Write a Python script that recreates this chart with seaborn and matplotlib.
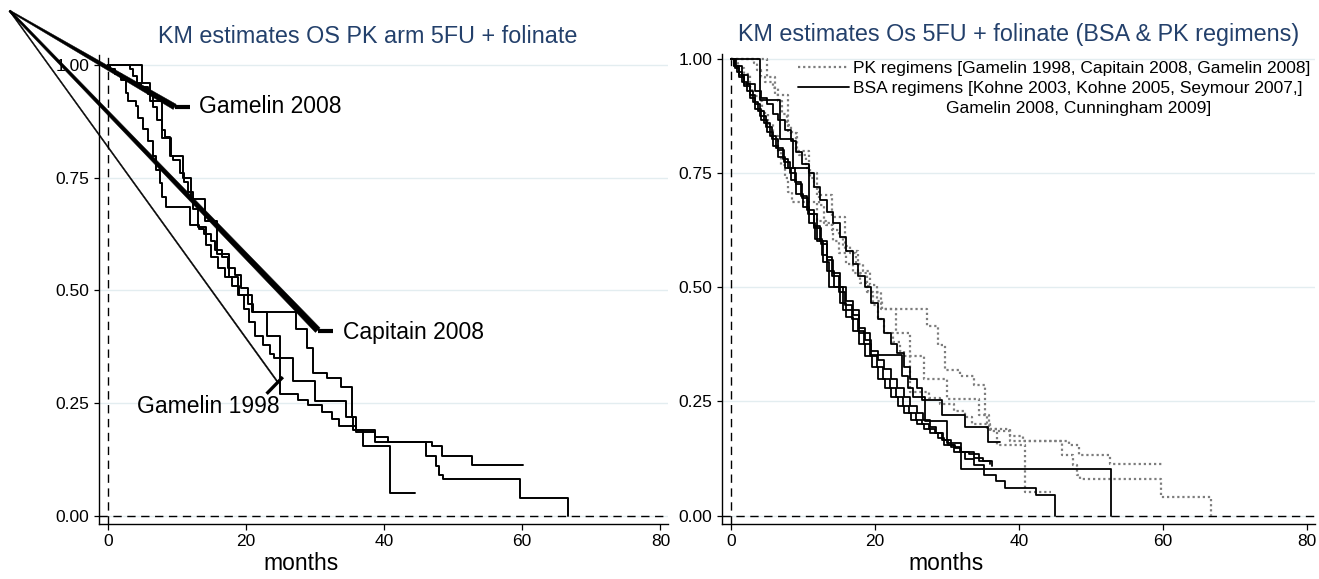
import numpy as np
import pandas as pd
import matplotlib
matplotlib.use("Agg")
import matplotlib.pyplot as plt
from matplotlib.lines import Line2D
from matplotlib.patches import Polygon
from matplotlib.ticker import FormatStrFormatter
import seaborn as sns

# ---------------- data ----------------
# PK arm studies (left panel, and dotted curves in right panel)
pk_a_t = [0, 0.4, 1.0, 1.9, 2.6, 3.0, 4.1, 4.4, 5.1, 5.8, 6.6, 7.0, 7.5, 7.9, 8.5, 11.9, 13.2, 14.0,
          15.0, 15.6, 16.5, 17.4, 18.4, 19.3, 20.3, 21.0, 23.0, 24.9, 26.8, 30.0, 34.5, 35.5, 36.9, 40.9, 44.5]
pk_a_s = [1.0, 0.99, 0.98, 0.967, 0.937, 0.919, 0.908, 0.882, 0.857, 0.831, 0.797, 0.768, 0.738, 0.708,
          0.686, 0.645, 0.636, 0.626, 0.61, 0.59, 0.575, 0.55, 0.535, 0.505, 0.47, 0.452, 0.40, 0.35,
          0.30, 0.255, 0.22, 0.19, 0.155, 0.052, 0.052]

pk_b_t = [0, 5.0, 6.1, 7.9, 9.2, 10.9, 12.0, 14.1, 15.8, 17.6, 18.9, 20.9, 27.3, 28.8, 29.7, 31.8,
          33.7, 35.3, 35.9, 38.7, 40.5, 47.0, 48.4, 52.7, 60.1]
pk_b_s = [1.0, 0.96, 0.92, 0.837, 0.797, 0.749, 0.702, 0.653, 0.58, 0.53, 0.49, 0.452, 0.414, 0.373,
          0.318, 0.306, 0.285, 0.22, 0.19, 0.175, 0.163, 0.155, 0.133, 0.113, 0.113]

pk_c_t = [0, 3.2, 3.7, 4.2, 4.8, 5.8, 6.6, 7.1, 7.8, 8.3, 9.0, 9.5, 10.5, 11.0, 11.6, 12.3, 13.0, 14.2,
          15.0, 16.0, 17.0, 18.0, 19.0, 19.8, 20.4, 21.3, 22.5, 23.5, 24.0, 24.9, 27.5, 29.0, 31.0, 32.5,
          33.5, 36.0, 38.7, 46.0, 47.5, 48.0, 48.5, 59.7, 66.6]
pk_c_s = [1.0, 0.99, 0.975, 0.96, 0.95, 0.936, 0.907, 0.878, 0.856, 0.84, 0.797, 0.79, 0.76, 0.74, 0.718,
          0.68, 0.64, 0.60, 0.575, 0.55, 0.53, 0.51, 0.49, 0.46, 0.43, 0.40, 0.38, 0.36, 0.35, 0.27, 0.257,
          0.245, 0.23, 0.215, 0.20, 0.186, 0.163, 0.133, 0.11, 0.09, 0.081, 0.040, 0.0]

# BSA arm studies (solid curves in right panel)
bsa_1_t = [0, 4.1, 6.8, 8.7, 10.8, 12.0, 12.8, 13.6, 15.6, 17.8, 19.3, 23.8, 24.6, 25.3, 27.0, 30.0, 31.9, 52.8]
bsa_1_s = [1.0, 0.91, 0.825, 0.76, 0.66, 0.60, 0.555, 0.50, 0.45, 0.40, 0.352, 0.305, 0.28, 0.26, 0.207,
           0.158, 0.103, 0.0]

bsa_2_t = [0, 0.7, 1.5, 2.4, 3.3, 4.2, 5.0, 5.8, 6.6, 7.5, 8.3, 9.1, 9.9, 10.8, 11.6, 12.4, 13.3, 14.2,
           15.1, 16.0, 16.9, 17.7, 18.6, 19.5, 20.4, 21.3, 22.2, 23.1, 24.0, 24.9, 25.8, 26.6, 29.3, 32.5,
           35.7, 37.4]
bsa_2_s = [1.0, 0.985, 0.965, 0.945, 0.93, 0.915, 0.90, 0.88, 0.865, 0.845, 0.82, 0.795, 0.77, 0.75, 0.72,
           0.69, 0.665, 0.64, 0.61, 0.58, 0.55, 0.525, 0.50, 0.465, 0.43, 0.40, 0.375, 0.355, 0.325, 0.30,
           0.28, 0.254, 0.22, 0.195, 0.161, 0.161]

bsa_3_t = [0, 0.4, 0.9, 1.6, 2.3, 3.1, 3.8, 4.6, 5.5, 6.3, 7.2, 8.0, 8.9, 9.8, 10.6, 11.5, 12.4, 13.3,
           14.1, 15.0, 15.9, 16.8, 17.6, 18.5, 19.4, 20.3, 21.2, 22.1, 23.0, 23.9, 24.8, 25.7, 26.6, 27.5,
           28.4, 29.3, 30.2, 31.1, 32.0, 33.7, 35.0, 36.0]
bsa_3_s = [1.0, 0.985, 0.97, 0.95, 0.93, 0.905, 0.885, 0.86, 0.83, 0.805, 0.78, 0.76, 0.73, 0.70, 0.67,
           0.635, 0.60, 0.565, 0.525, 0.49, 0.46, 0.43, 0.405, 0.375, 0.35, 0.325, 0.30, 0.28, 0.26, 0.24,
           0.225, 0.21, 0.20, 0.19, 0.18, 0.165, 0.155, 0.148, 0.14, 0.127, 0.12, 0.113]

bsa_4_t = [0, 0.6, 1.2, 1.9, 2.7, 3.4, 4.2, 5.0, 5.8, 6.6, 7.5, 8.3, 9.1, 10.0, 10.8, 11.7, 12.6, 13.4,
           14.3, 15.2, 16.0, 16.9, 17.8, 18.7, 19.6, 20.5, 21.4, 22.3, 23.2, 24.1, 25.0, 25.9, 26.8, 27.7,
           28.7, 29.6, 31.0, 32.5, 33.8, 35.2, 36.8, 38.0, 42.4, 45.0]
bsa_4_s = [1.0, 0.98, 0.96, 0.94, 0.915, 0.89, 0.865, 0.84, 0.81, 0.785, 0.76, 0.735, 0.705, 0.675, 0.64,
           0.605, 0.57, 0.535, 0.50, 0.465, 0.435, 0.405, 0.375, 0.35, 0.325, 0.30, 0.28, 0.26, 0.24, 0.225,
           0.21, 0.20, 0.19, 0.18, 0.17, 0.155, 0.14, 0.125, 0.11, 0.09, 0.076, 0.061, 0.046, 0.0]

bsa_5_t = [0, 0.5, 1.1, 1.8, 2.6, 3.3, 4.1, 4.9, 5.7, 6.5, 7.4, 8.2, 9.0, 9.9, 10.7, 11.6, 12.5, 13.4,
           14.2, 15.1, 16.0, 16.9, 17.8, 18.7, 19.5, 20.4, 21.3, 22.2, 23.1, 24.0, 24.9, 25.8, 26.7, 27.6,
           28.5, 29.5, 30.6, 31.8, 33.0, 34.4, 36.3]
bsa_5_s = [1.0, 0.985, 0.965, 0.945, 0.92, 0.90, 0.875, 0.85, 0.825, 0.80, 0.775, 0.75, 0.725, 0.695,
           0.66, 0.63, 0.595, 0.56, 0.53, 0.50, 0.47, 0.44, 0.41, 0.385, 0.36, 0.34, 0.32, 0.30, 0.28, 0.26,
           0.24, 0.225, 0.21, 0.195, 0.18, 0.165, 0.15, 0.14, 0.135, 0.12, 0.108]

pk_names = ["Gamelin 1998", "Capitain 2008", "Gamelin 2008"]
bsa_names = ["Kohne 2003", "Kohne 2005", "Seymour 2007", "Gamelin 2008 BSA", "Cunningham 2009"]

x_ticks = [0, 20, 40, 60, 80]
y_ticks = [0.0, 0.25, 0.5, 0.75, 1.0]

left_title = "KM estimates OS PK arm 5FU + folinate"
right_title = "KM estimates Os 5FU + folinate (BSA & PK regimens)"
x_label = "months"
legend_pk = "PK regimens [Gamelin 1998, Capitain 2008, Gamelin 2008]"
legend_bsa_1 = "BSA regimens [Kohne 2003, Kohne 2005, Seymour 2007,]"
legend_bsa_2 = "Gamelin 2008, Cunningham 2009]"

# annotation labels for left panel
annot_labels = ["Gamelin 2008", "Capitain 2008", "Gamelin 1998"]

# ---------------- frames ----------------
pk_curves = [(pk_c_t, pk_c_s), (pk_a_t, pk_a_s), (pk_b_t, pk_b_s)]
bsa_curves = [(bsa_1_t, bsa_1_s), (bsa_2_t, bsa_2_s), (bsa_3_t, bsa_3_s),
              (bsa_4_t, bsa_4_s), (bsa_5_t, bsa_5_s)]

def frame(curves, names, group):
    parts = []
    for (t, s), n in zip(curves, names):
        parts.append(pd.DataFrame({"months": t, "surv": s, "study": n, "group": group}))
    return pd.concat(parts, ignore_index=True)

pk_df = frame(pk_curves, pk_names, "PK")
bsa_df = frame(bsa_curves, bsa_names, "BSA")

# ---------------- style ----------------
sns.set_theme(style="ticks")
plt.rcParams["font.family"] = ["Liberation Sans", "DejaVu Sans"]
plt.rcParams["text.color"] = "black"
plt.rcParams["axes.labelcolor"] = "black"

W, H = 1319, 579
fig = plt.figure(figsize=(W / 100, H / 100), dpi=100)
fig.patch.set_facecolor("white")

axL = fig.add_axes([99 / W, 1 - 524 / H, (668 - 99) / W, (524 - 55) / H])
axR = fig.add_axes([721.7 / W, 1 - 524 / H, (1315 - 721.7) / W, (524 - 53.5) / H])

TITLE_C = "#23406b"
DASH = (0, (6, 4))

def style_axes(ax, ylim):
    ax.set_facecolor("white")
    ax.set_xlim(-1.26, 81.1)
    ax.set_ylim(*ylim)
    ax.set_xticks(x_ticks)
    ax.set_yticks(y_ticks)
    ax.yaxis.set_major_formatter(FormatStrFormatter("%.2f"))
    ax.grid(axis="y", color="#e3edf0", lw=1.0)
    ax.grid(axis="x", visible=False)
    for sp in ("top", "right"):
        ax.spines[sp].set_visible(False)
    for sp in ("left", "bottom"):
        ax.spines[sp].set_linewidth(1.0)
        ax.spines[sp].set_color("black")
    ax.tick_params(axis="y", length=3.6, width=0.9, labelsize=12.5, pad=3.2, colors="black")
    ax.tick_params(axis="x", length=4.3, width=0.9, labelsize=12.5, pad=3.2, colors="black")
    ax.axvline(0, color="black", lw=1.0, ls=DASH, zorder=1)
    ax.axhline(0, color="black", lw=1.0, ls=DASH, zorder=1)
    ax.set_ylabel("")

style_axes(axL, (-0.0177, 1.022))
style_axes(axR, (-0.0182, 1.0114))

# ---------------- left panel ----------------
for name in pk_names:
    sub = pk_df[pk_df["study"] == name]
    sns.lineplot(data=sub, x="months", y="surv", ax=axL, estimator=None, sort=False,
                 drawstyle="steps-post", color="black", lw=1.4, legend=False)

axL.set_xlabel(x_label, fontsize=16.5, color="black")
axL.xaxis.set_label_coords(0.355, -0.085)
axL.xaxis.label.set_va("center")
axL.set_ylabel("")
axL.text(0.473, 1.04, left_title, transform=axL.transAxes, ha="center", va="center",
         fontsize=16.8, color=TITLE_C)

# ---------------- right panel ----------------
for name in pk_names:
    sub = pk_df[pk_df["study"] == name]
    sns.lineplot(data=sub, x="months", y="surv", ax=axR, estimator=None, sort=False,
                 drawstyle="steps-post", color="#7d7d7d", lw=1.6, linestyle=(0, (1, 1.3)),
                 legend=False)
for name in bsa_names:
    sub = bsa_df[bsa_df["study"] == name]
    sns.lineplot(data=sub, x="months", y="surv", ax=axR, estimator=None, sort=False,
                 drawstyle="steps-post", color="black", lw=1.3, legend=False)

axR.set_xlabel(x_label, fontsize=16.5, color="black")
axR.xaxis.set_label_coords(0.379, -0.085)
axR.xaxis.label.set_va("center")
axR.set_ylabel("")
axR.text(0.5, 1.04, right_title, transform=axR.transAxes, ha="center", va="center",
         fontsize=16.8, color=TITLE_C)

handles = [Line2D([], [], color="#7d7d7d", lw=1.6, ls=(0, (1, 1.3))),
           Line2D([], [], color="black", lw=1.3)]
leg = axR.legend(handles, [legend_pk, legend_bsa_1], loc="upper right",
                 bbox_to_anchor=(0.993, 0.985), frameon=False, fontsize=12.5,
                 handlelength=2.95, handletextpad=0.25, labelspacing=0.3, borderaxespad=0.0,
                 borderpad=0.0)
for t in leg.get_texts():
    t.set_color("black")

# ---------------- left annotations (arrows from the top-left corner) ----------------
arrow_start = (-14.2, 1.12)
arrow_ends = [(9.7, 0.907), (30.4, 0.412), (24.6, 0.297)]
arrow_w = [(1.4, 6.0), (2.2, 6.5), (1.1, 1.3)]
connector = [((9.7, 0.907), (11.9, 0.907)), ((30.4, 0.410), (32.6, 0.410)),
             ((23.0, 0.271), (25.35, 0.308))]
connector_lw = [3.0, 3.0, 2.4]
text_xy = [(13.2, 0.907), (34.0, 0.406), (24.9, 0.242)]
text_ha = ["left", "left", "right"]

def wedge(ax, p0, p1, w0, w1):
    T = ax.transData
    a = T.transform(p0)
    b = T.transform(p1)
    d = b - a
    n = np.array([-d[1], d[0]]) / np.hypot(*d)
    pts = np.array([a + n * w0 / 2, b + n * w1 / 2, b - n * w1 / 2, a - n * w0 / 2])
    poly = Polygon(T.inverted().transform(pts), closed=True, transform=T,
                   facecolor="black", edgecolor="black", lw=0.3, clip_on=False, zorder=5)
    ax.add_patch(poly)

for lab, end, (w0, w1), (c0, c1), clw, txy, ha in zip(annot_labels, arrow_ends, arrow_w,
                                                     connector, connector_lw, text_xy, text_ha):
    wedge(axL, arrow_start, end, w0, w1)
    axL.plot([c0[0], c1[0]], [c0[1], c1[1]], color="black", lw=clw, clip_on=False,
             solid_capstyle="butt", zorder=5)
    axL.text(txy[0], txy[1], lab, ha=ha, va="center", fontsize=16.5, color="black")

# third legend line, centred under the BSA entry
fig.canvas.draw()
texts = leg.get_texts()
bb = texts[1].get_window_extent(fig.canvas.get_renderer())
cx = (bb.x0 + bb.x1) / 2
cy = (bb.y0 + bb.y1) / 2 - 19.5
fig.text(cx / W, cy / H, legend_bsa_2, ha="center", va="center", fontsize=12.5, color="black")

fig.savefig("out.png", dpi=100, facecolor="white")
